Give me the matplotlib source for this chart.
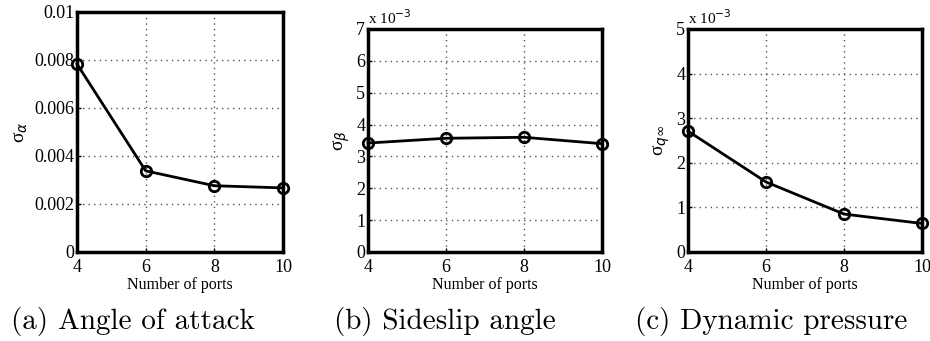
import numpy as np
import matplotlib.pyplot as plt

# datos
ports = [4, 6, 8, 10]
sigma_alpha = [0.00783, 0.00338, 0.00276, 0.00267]
sigma_beta = [3.42, 3.57, 3.60, 3.40]     # x 1e-3
sigma_q = [2.71, 1.57, 0.85, 0.64]        # x 1e-3

tick_font = 'Liberation Serif'
cap_font = 'cmr10'

fig = plt.figure(figsize=(9.3, 3.41), dpi=100)

ax_a = fig.add_axes([0.0828, 0.261, 0.2215, 0.704])
ax_b = fig.add_axes([0.3957, 0.261, 0.2516, 0.654])
ax_c = fig.add_axes([0.7398, 0.261, 0.2516, 0.654])

panels = [
    (ax_a, sigma_alpha, 0.01, [0, 0.002, 0.004, 0.006, 0.008, 0.01],
     ['0', '0.002', '0.004', '0.006', '0.008', '0.01'], r'σ$_\alpha$',
     '(a) Angle of attack', False, 133),
    (ax_b, sigma_beta, 7, list(range(8)), [str(i) for i in range(8)],
     r'σ$_\beta$', '(b) Sideslip angle', True, 445),
    (ax_c, sigma_q, 5, list(range(6)), [str(i) for i in range(6)],
     r'σ$_{q\infty}$', '(c) Dynamic pressure', True, 771),
]

for ax, vals, ymax, yt, ytl, ylab, cap, expo, cap_x in panels:
    ax.plot(ports, vals, color='black', lw=2, marker='o', ms=7.5,
            mfc='none', mec='black', mew=2, clip_on=False, zorder=5)
    ax.set_xlim(4, 10)
    ax.set_ylim(0, ymax)
    ax.set_xticks(ports)
    ax.set_xticklabels([str(p) for p in ports], fontfamily=tick_font, fontsize=13)
    ax.set_yticks(yt)
    ax.set_yticklabels(ytl, fontfamily=tick_font, fontsize=13)
    ax.tick_params(direction='in', length=3, width=1)
    ax.tick_params(axis='x', pad=5)
    ax.tick_params(axis='y', pad=2)
    ax.grid(True, color='#555555', linestyle=(0, (1, 3)), lw=1)
    for s in ax.spines.values():
        s.set_linewidth(2.5)
    ax.set_xlabel('Number of ports', fontfamily=tick_font, fontsize=11.5, labelpad=1)
    ax.set_ylabel(ylab, fontfamily=tick_font, fontsize=14, labelpad=3)
    if expo:
        ax.text(0.0, 1.01, r'x 10$^{-3}$', transform=ax.transAxes,
                fontfamily=tick_font, fontsize=11, ha='left', va='bottom')
    fig.text(cap_x / 930, 0.056, cap,
             fontfamily=cap_font, fontsize=21, ha='center', va='center')

plt.savefig('out.png', dpi=100)
